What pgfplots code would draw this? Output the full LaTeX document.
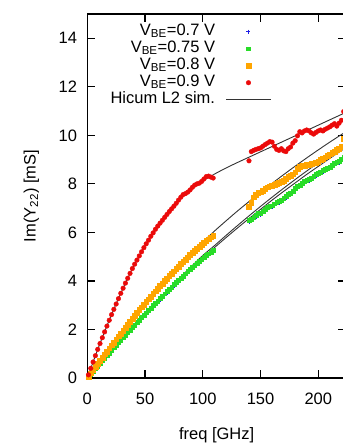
\documentclass[border=0pt]{standalone}
\usepackage{fontspec}
\setmainfont{Liberation Sans}
\usepackage{pgfplots}
\pgfplotsset{compat=1.18}
\definecolor{cblue}{RGB}{30,30,230}
\definecolor{cgreen}{RGB}{40,220,40}
\definecolor{corange}{RGB}{255,165,0}
\definecolor{cred}{RGB}{235,10,10}
\begin{document}
\fontsize{16.5bp}{19bp}\selectfont
\begin{tikzpicture}
\useasboundingbox (-87.3bp,-70bp) rectangle (255.7bp,378bp);
\begin{axis}[
  at={(0,0)}, anchor=south west,
  scale only axis, width=258.7bp, height=364bp,
  xmin=0, xmax=224, ymin=0, ymax=15,
  xtick={0,50,100,150,200}, ytick={0,2,4,6,8,10,12,14},
  font=\fontsize{16.5bp}{19bp}\selectfont,
  /pgf/number format/assume math mode=true,
  axis line style={line width=1.4bp},
  every tick/.style={line width=1.2bp, black},
  major tick length=8bp,
  tick align=inside,
  yticklabel style={inner sep=0pt, anchor=east, xshift=-10bp},
  xticklabel style={inner sep=0pt, anchor=north, yshift=-15bp},
  xlabel={freq [GHz]},
  ylabel={Im(Y\textsubscript{22}) [mS]},
  every axis x label/.style={at={(axis description cs:0.5,-0.1566)}, anchor=center},
  every axis y label/.style={at={(axis description cs:-0.2165,0.5)}, anchor=center, rotate=90},
  legend plot pos=right,
  legend cell align=right,
  legend image code/.code={\draw[mark repeat=2,mark phase=2,#1] plot coordinates {(0bp,0bp) (22bp,0bp) (44bp,0bp)};},
  legend style={at={(axis cs:159,14.62)}, anchor=north east, draw=none, fill=none,
    inner sep=0pt, outer sep=0pt,
    column sep=11bp, row sep=0bp,
    nodes={inner sep=0pt, text height=12bp, text depth=5bp}},
]
% V_BE = 0.7 V (blue)
\addplot[only marks, mark=+, mark size=2bp, cblue, line width=0.8bp] table[row sep=\\] {
x y \\
1 0.04 \\ 3 0.14 \\ 5 0.25 \\ 7 0.35 \\ 9 0.46 \\ 11 0.57 \\ 13 0.68 \\ 15 0.79 \\ 17 0.89 \\ 19 1.00 \\
21 1.11 \\ 23 1.21 \\ 25 1.32 \\ 27 1.42 \\ 29 1.53 \\ 31 1.63 \\ 33 1.73 \\ 35 1.84 \\ 37 1.94 \\ 39 2.04 \\
41 2.14 \\ 43 2.25 \\ 45 2.35 \\ 47 2.45 \\ 49 2.55 \\ 51 2.65 \\ 53 2.75 \\ 55 2.85 \\ 57 2.94 \\ 59 3.04 \\
61 3.13 \\ 63 3.23 \\ 65 3.33 \\ 67 3.42 \\ 69 3.52 \\ 71 3.61 \\ 73 3.70 \\ 75 3.80 \\ 77 3.89 \\ 79 3.98 \\
81 4.07 \\ 83 4.16 \\ 85 4.25 \\ 87 4.34 \\ 89 4.43 \\ 91 4.51 \\ 93 4.60 \\ 95 4.68 \\ 97 4.77 \\ 99 4.85 \\
101 4.93 \\ 103 5.00 \\ 105 5.07 \\ 107 5.14 \\ 109 5.21 \\
140 6.43 \\ 142 6.48 \\ 144 6.55 \\ 146 6.63 \\ 148 6.71 \\ 150 6.73 \\ 152 6.79 \\ 154 6.88 \\ 156 6.98 \\ 158 7.01 \\
160 7.03 \\ 162 7.11 \\ 164 7.18 \\ 166 7.23 \\ 168 7.25 \\ 170 7.33 \\ 172 7.43 \\ 174 7.51 \\ 176 7.55 \\ 178 7.63 \\
180 7.75 \\ 182 7.83 \\ 184 7.88 \\ 186 7.95 \\ 188 8.03 \\ 190 8.09 \\ 192 8.13 \\ 194 8.17 \\ 196 8.25 \\ 198 8.33 \\
200 8.38 \\ 202 8.41 \\ 204 8.49 \\ 206 8.55 \\ 208 8.59 \\ 210 8.63 \\ 212 8.71 \\ 214 8.78 \\ 216 8.83 \\ 218 8.88 \\
220 8.95 \\ 222 9.03 \\
};
\addlegendentry{V\textsubscript{BE}=0.7 V}
% V_BE = 0.75 V (green)
\addplot[only marks, mark=square*, mark size=1.9bp, cgreen] table[row sep=\\] {
x y \\
1 0.05 \\ 3 0.16 \\ 5 0.27 \\ 7 0.38 \\ 9 0.49 \\ 11 0.60 \\ 13 0.71 \\ 15 0.82 \\ 17 0.92 \\ 19 1.03 \\
21 1.14 \\ 23 1.25 \\ 25 1.35 \\ 27 1.46 \\ 29 1.56 \\ 31 1.67 \\ 33 1.77 \\ 35 1.87 \\ 37 1.98 \\ 39 2.08 \\
41 2.18 \\ 43 2.29 \\ 45 2.39 \\ 47 2.49 \\ 49 2.59 \\ 51 2.69 \\ 53 2.79 \\ 55 2.89 \\ 57 2.99 \\ 59 3.09 \\
61 3.18 \\ 63 3.28 \\ 65 3.38 \\ 67 3.47 \\ 69 3.57 \\ 71 3.66 \\ 73 3.75 \\ 75 3.85 \\ 77 3.94 \\ 79 4.03 \\
81 4.12 \\ 83 4.21 \\ 85 4.30 \\ 87 4.39 \\ 89 4.48 \\ 91 4.56 \\ 93 4.65 \\ 95 4.73 \\ 97 4.82 \\ 99 4.90 \\
101 4.98 \\ 103 5.05 \\ 105 5.12 \\ 107 5.19 \\ 109 5.26 \\
140 6.50 \\ 142 6.55 \\ 144 6.62 \\ 146 6.70 \\ 148 6.78 \\ 150 6.80 \\ 152 6.86 \\ 154 6.95 \\ 156 7.05 \\ 158 7.08 \\
160 7.10 \\ 162 7.18 \\ 164 7.25 \\ 166 7.30 \\ 168 7.32 \\ 170 7.40 \\ 172 7.50 \\ 174 7.58 \\ 176 7.62 \\ 178 7.70 \\
180 7.82 \\ 182 7.90 \\ 184 7.95 \\ 186 8.02 \\ 188 8.10 \\ 190 8.16 \\ 192 8.20 \\ 194 8.24 \\ 196 8.32 \\ 198 8.40 \\
200 8.45 \\ 202 8.48 \\ 204 8.56 \\ 206 8.62 \\ 208 8.66 \\ 210 8.70 \\ 212 8.78 \\ 214 8.85 \\ 216 8.90 \\ 218 8.95 \\
220 9.02 \\ 222 9.10 \\
};
\addlegendentry{V\textsubscript{BE}=0.75 V}
% V_BE = 0.8 V (orange)
\addplot[only marks, mark=square*, mark size=2.4bp, corange] table[row sep=\\] {
x y \\
1 0.07 \\ 3 0.20 \\ 5 0.33 \\ 7 0.46 \\ 9 0.59 \\ 11 0.72 \\ 13 0.85 \\ 15 0.98 \\ 17 1.10 \\ 19 1.23 \\
21 1.35 \\ 23 1.47 \\ 25 1.60 \\ 27 1.72 \\ 29 1.84 \\ 31 1.96 \\ 33 2.08 \\ 35 2.20 \\ 37 2.32 \\ 39 2.44 \\
41 2.56 \\ 43 2.68 \\ 45 2.80 \\ 47 2.92 \\ 49 3.03 \\ 51 3.14 \\ 53 3.25 \\ 55 3.36 \\ 57 3.47 \\ 59 3.58 \\
61 3.69 \\ 63 3.79 \\ 65 3.90 \\ 67 4.00 \\ 69 4.10 \\ 71 4.20 \\ 73 4.30 \\ 75 4.40 \\ 77 4.50 \\ 79 4.60 \\
81 4.70 \\ 83 4.78 \\ 85 4.88 \\ 87 4.98 \\ 89 5.07 \\ 91 5.15 \\ 93 5.24 \\ 95 5.33 \\ 97 5.42 \\ 99 5.50 \\
101 5.58 \\ 103 5.65 \\ 105 5.72 \\ 107 5.80 \\ 109 5.86 \\
140 7.05 \\ 142 7.22 \\ 144 7.45 \\ 146 7.55 \\ 148 7.62 \\ 150 7.66 \\ 152 7.72 \\ 154 7.80 \\ 156 7.86 \\ 158 7.90 \\
160 7.94 \\ 162 7.97 \\ 164 8.00 \\ 166 8.05 \\ 168 8.10 \\ 170 8.12 \\ 172 8.22 \\ 174 8.30 \\ 176 8.34 \\ 178 8.40 \\
180 8.48 \\ 182 8.62 \\ 184 8.72 \\ 186 8.75 \\ 188 8.76 \\ 190 8.78 \\ 192 8.80 \\ 194 8.84 \\ 196 8.85 \\ 198 8.88 \\
200 8.92 \\ 202 8.98 \\ 204 9.05 \\ 206 9.10 \\ 208 9.17 \\ 210 9.22 \\ 212 9.28 \\ 214 9.33 \\ 216 9.40 \\ 218 9.46 \\
220 9.52 \\ 222 9.85 \\
};
\addlegendentry{V\textsubscript{BE}=0.8 V}
% V_BE = 0.9 V (red)
\addplot[only marks, mark=*, mark size=2.3bp, cred] table[row sep=\\] {
x y \\
1 0.13 \\ 3 0.40 \\ 5 0.66 \\ 7 0.92 \\ 9 1.18 \\ 11 1.42 \\ 13 1.66 \\ 15 1.90 \\ 17 2.14 \\ 19 2.38 \\
21 2.61 \\ 23 2.83 \\ 25 3.05 \\ 27 3.27 \\ 29 3.49 \\ 31 3.70 \\ 33 3.91 \\ 35 4.11 \\ 37 4.31 \\ 39 4.51 \\
41 4.69 \\ 43 4.86 \\ 45 5.03 \\ 47 5.20 \\ 49 5.37 \\ 51 5.53 \\ 53 5.68 \\ 55 5.84 \\ 57 5.98 \\ 59 6.13 \\
61 6.26 \\ 63 6.38 \\ 65 6.50 \\ 67 6.62 \\ 69 6.74 \\ 71 6.86 \\ 73 6.97 \\ 75 7.08 \\ 77 7.20 \\ 79 7.33 \\
81 7.45 \\ 83 7.56 \\ 85 7.60 \\ 87 7.66 \\ 89 7.75 \\ 91 7.86 \\ 93 7.95 \\ 95 8.00 \\ 97 8.03 \\ 99 8.10 \\
101 8.20 \\ 103 8.30 \\ 105 8.32 \\ 107 8.28 \\ 109 8.24 \\
140 8.95 \\ 142 9.33 \\ 144 9.38 \\ 146 9.42 \\ 148 9.45 \\ 150 9.48 \\ 152 9.55 \\ 154 9.62 \\ 156 9.68 \\ 158 9.74 \\
160 9.72 \\ 162 9.55 \\ 164 9.42 \\ 166 9.38 \\ 168 9.45 \\ 170 9.36 \\ 172 9.33 \\ 174 9.45 \\ 176 9.52 \\ 178 9.68 \\
180 9.78 \\ 182 9.98 \\ 184 10.15 \\ 186 10.10 \\ 188 10.18 \\ 190 10.22 \\ 192 10.18 \\ 194 10.10 \\ 196 10.05 \\ 198 10.12 \\
200 10.18 \\ 202 10.22 \\ 204 10.18 \\ 206 10.25 \\ 208 10.30 \\ 210 10.35 \\ 212 10.42 \\ 214 10.48 \\ 216 10.38 \\ 218 10.50 \\
220 10.62 \\ 222 10.98 \\
};
\addlegendentry{V\textsubscript{BE}=0.9 V}
% HICUM L2 simulations
\addplot[smooth, no marks, black!80, line width=0.9bp] table[row sep=\\] {
x y \\
0 0 \\ 10 1.3 \\ 20 2.5 \\ 30 3.6 \\ 40 4.6 \\ 50 5.45 \\ 60 6.2 \\ 70 6.8 \\ 80 7.35 \\ 90 7.78 \\
100 8.12 \\ 110 8.4 \\ 120 8.65 \\ 130 8.88 \\ 140 9.1 \\ 150 9.32 \\ 160 9.54 \\ 170 9.76 \\ 180 9.98 \\
190 10.2 \\ 200 10.42 \\ 210 10.64 \\ 220 10.86 \\ 230 11.08 \\
};
\addlegendentry{Hicum L2 sim.}
\addplot[smooth, no marks, black!80, line width=0.9bp, forget plot] table[row sep=\\] {
x y \\
0 0 \\ 10 0.65 \\ 20 1.28 \\ 30 1.9 \\ 40 2.5 \\ 50 3.08 \\ 60 3.63 \\ 70 4.15 \\ 80 4.65 \\ 90 5.13 \\
100 5.6 \\ 110 6.05 \\ 120 6.47 \\ 130 6.88 \\ 140 7.27 \\ 150 7.65 \\ 160 8.02 \\ 170 8.38 \\ 180 8.73 \\
190 9.07 \\ 200 9.4 \\ 210 9.72 \\ 220 10.03 \\ 230 10.33 \\
};
\addplot[smooth, no marks, black!80, line width=0.9bp, forget plot] table[row sep=\\] {
x y \\
0 0 \\ 10 0.55 \\ 20 1.09 \\ 30 1.62 \\ 40 2.14 \\ 50 2.65 \\ 60 3.15 \\ 70 3.64 \\ 80 4.12 \\ 90 4.59 \\
100 5.05 \\ 110 5.45 \\ 120 5.87 \\ 130 6.28 \\ 140 6.68 \\ 150 7.07 \\ 160 7.45 \\ 170 7.82 \\ 180 8.18 \\
190 8.53 \\ 200 8.87 \\ 210 9.2 \\ 220 9.52 \\ 230 9.83 \\
};
\addplot[smooth, no marks, black!80, line width=0.9bp, forget plot] table[row sep=\\] {
x y \\
0 0 \\ 10 0.54 \\ 20 1.07 \\ 30 1.6 \\ 40 2.11 \\ 50 2.61 \\ 60 3.1 \\ 70 3.58 \\ 80 4.05 \\ 90 4.51 \\
100 4.96 \\ 110 5.37 \\ 120 5.78 \\ 130 6.18 \\ 140 6.57 \\ 150 6.95 \\ 160 7.33 \\ 170 7.69 \\ 180 8.04 \\
190 8.39 \\ 200 8.72 \\ 210 9.05 \\ 220 9.37 \\ 230 9.69 \\
};
\end{axis}
\end{tikzpicture}
\end{document}
